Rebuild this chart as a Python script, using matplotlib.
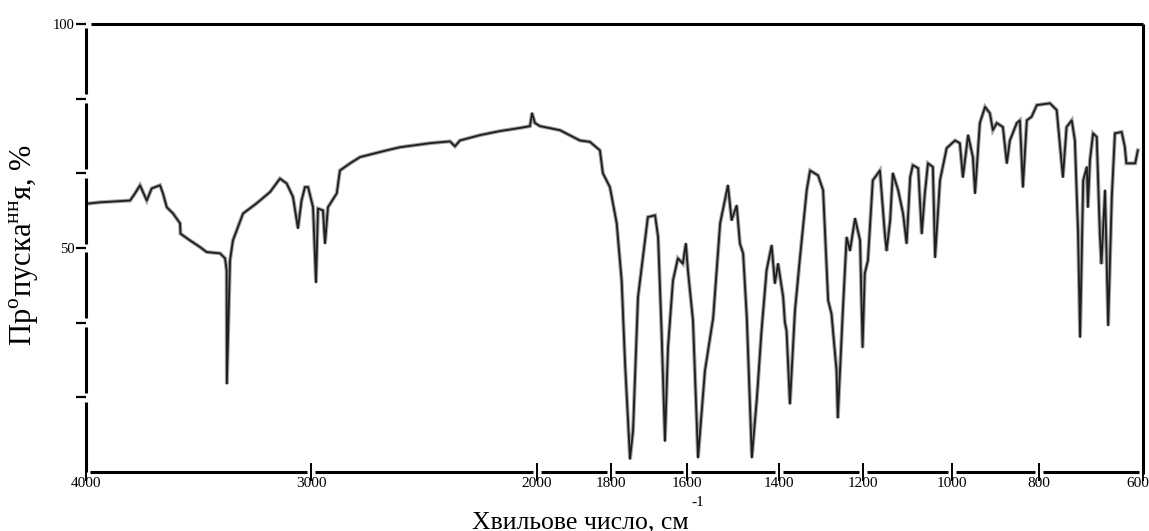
import numpy as np
import matplotlib
matplotlib.use("Agg")
from matplotlib import pyplot as plt
from matplotlib.transforms import ScaledTranslation

plt.rcParams['font.family'] = ['Liberation Serif', 'DejaVu Serif']
plt.rcParams['mathtext.fontset'] = 'custom'
plt.rcParams['mathtext.rm'] = 'Liberation Serif'

# IR spectrum (wavenumber, cm-1 / transmittance, %)
wavenumber = [3994, 3938, 3871, 3804, 3782, 3760, 3730, 3708, 3671, 3658, 3641, 3613, 3582, 3580,
              3538, 3493, 3464, 3404, 3382, 3375, 3374, 3360, 3347, 3302, 3241, 3182, 3138, 3108,
              3080, 3058, 3042, 3027, 3013, 2991, 2978, 2969, 2947, 2938, 2925, 2886, 2872, 2827,
              2783, 2665, 2606, 2473, 2385, 2363, 2341, 2252, 2164, 2075, 2031, 2022, 2009, 1992,
              1938, 1884, 1857, 1830, 1822, 1803, 1785, 1772, 1763, 1750, 1742, 1729, 1716, 1703,
              1684, 1676, 1667, 1658, 1650, 1637, 1624, 1611, 1603, 1598, 1587, 1576, 1561, 1543,
              1528, 1511, 1503, 1492, 1485, 1478, 1470, 1459, 1448, 1438, 1427, 1416, 1409, 1402,
              1390, 1386, 1382, 1374, 1362, 1350, 1334, 1326, 1307, 1295, 1283, 1275, 1263, 1260,
              1248, 1239, 1231, 1219, 1207, 1201, 1196, 1189, 1178, 1162, 1151, 1147, 1139, 1133,
              1121, 1110, 1102, 1094, 1088, 1076, 1068, 1061, 1054, 1043, 1038, 1027, 1012, 993,
              982, 975, 963, 952, 947, 936, 924, 913, 906, 897, 883, 874, 867, 851,
              844, 837, 828, 817, 805, 779, 766, 760, 754, 747, 737, 731, 725, 721,
              715, 708, 706, 702, 696, 689, 683, 680, 673, 667, 660, 654, 641, 635,
              632, 615, 610]
transmittance = [59.9, 60.2, 60.4, 60.6, 62.2, 64.0, 60.6, 63.3, 64.0, 62.2, 59.1, 57.7, 55.5, 53.2,
                 51.7, 50.2, 49.1, 48.8, 47.7, 45.0, 19.7, 47.2, 51.7, 57.7, 60.0, 62.5, 65.5, 64.4,
                 61.4, 54.4, 60.6, 63.6, 63.6, 59.1, 42.3, 58.8, 58.4, 51.0, 59.1, 62.2, 67.3, 68.9,
                 70.3, 71.8, 72.5, 73.4, 73.8, 72.7, 74.0, 75.2, 76.1, 76.8, 77.2, 80.1, 77.9, 77.2,
                 76.3, 74.0, 73.7, 71.8, 66.7, 63.6, 55.5, 42.7, 24.2, 2.9, 9.2, 39.0, 47.9, 56.9,
                 57.3, 52.4, 31.5, 6.9, 27.8, 42.7, 47.7, 46.5, 51.0, 45.0, 33.8, 3.2, 22.6, 34.5,
                 55.5, 64.0, 56.2, 59.5, 51.0, 48.8, 34.5, 3.2, 16.6, 31.5, 45.0, 50.6, 42.1, 46.5,
                 39.0, 33.4, 31.5, 15.2, 36.0, 47.9, 62.9, 67.3, 66.2, 62.9, 38.3, 35.3, 22.6, 12.1,
                 36.0, 52.4, 49.4, 56.6, 51.7, 27.8, 44.3, 47.2, 65.1, 67.3, 53.2, 49.4, 56.2, 66.7,
                 62.9, 57.7, 51.0, 65.8, 68.5, 67.8, 53.2, 62.2, 68.9, 68.1, 47.9, 65.1, 72.3, 74.0,
                 73.4, 65.8, 75.2, 70.3, 62.2, 77.9, 81.5, 80.1, 76.3, 77.9, 77.0, 68.9, 74.0, 77.9,
                 78.5, 63.6, 78.5, 79.3, 81.9, 82.3, 80.8, 73.4, 65.8, 77.0, 78.5, 74.0, 53.9, 30.1,
                 65.1, 68.1, 59.1, 69.6, 75.6, 74.8, 53.2, 46.5, 62.9, 32.7, 61.4, 75.6, 75.9, 72.6,
                 68.9, 68.9, 71.8]

x_ticks = [4000, 3000, 2000, 1800, 1600, 1400, 1200, 1000, 800, 600]
y_ticks = [100 * k / 6 for k in range(1, 7)]
y_tick_labels = ['', '', '50', '', '', '100']

# chart paper has an uneven wavenumber scale -> piecewise map through tick positions (pixels)
tick_px = [86, 311, 537, 611, 687, 779, 863, 952, 1039, 1143]

W, H = 1149, 531
L, R, TOP, BOT = 86, 1143, 24, 472


def fwd(w):
    return -np.interp(w, x_ticks[::-1], tick_px[::-1])


def inv(t):
    return np.interp(-np.asarray(t), tick_px, x_ticks)


def px2w(p):
    return np.interp(p, tick_px, x_ticks)


fig = plt.figure(figsize=(W / 100, H / 100), dpi=100)
ax = fig.add_axes([L / W, 1 - BOT / H, (R - L) / W, (BOT - TOP) / H])
ax.set_xscale('function', functions=(fwd, inv))
ax.set_xlim(4000, 600)
ax.set_ylim(0, 100)

""" spectrum """
ax.plot(wavenumber, transmittance, color='#a0a0a0', lw=2.8, solid_joinstyle='miter')
ax.plot(wavenumber, transmittance, color='#1e1e1e', lw=1.3)

""" ticks """
ax.set_xticks(x_ticks)
ax.set_xticklabels([str(v) for v in x_ticks])
ax.tick_params(axis='x', direction='inout', length=13, width=1.4, pad=-3, labelsize=11)
ax.set_yticks(y_ticks)
ax.set_yticklabels(y_tick_labels)
ax.tick_params(axis='y', direction='out', length=7, width=1.6, pad=1.5, labelsize=10.5)
ax.minorticks_off()
# last label sits right on the figure edge, nudge it in a bit
last = ax.get_xticklabels()[-1]
last.set_transform(last.get_transform() + ScaledTranslation(-5 / 100, 0, fig.dpi_scale_trans))

""" frame drawn in pieces, with gaps at the ticks like the scanned chart """
for s in ax.spines.values():
    s.set_visible(False)
kw = dict(color='black', lw=2.2, solid_capstyle='butt', clip_on=False)
gap = 4
for i in range(len(tick_px) - 1):
    ax.plot([px2w(tick_px[i] + gap), px2w(tick_px[i + 1] - gap)], [0, 0], **kw)
y_edges = [0] + y_ticks
for i in range(len(y_edges) - 1):
    lo = y_edges[i] + (1.0 if i > 0 else 0)
    ax.plot([4000, 4000], [lo, y_edges[i + 1] - 1.0], **kw)
ax.plot([px2w(91), 600], [100, 100], **kw)
ax.plot([600, 600], [100, -0.4], **kw)

""" labels """
fig.text(580 / W, 1 - 528 / H, 'Хвильове число, см', ha='center', va='baseline', fontsize=18.5)
fig.text(698 / W, 1 - 502 / H, '-1', ha='center', va='center', fontsize=11)
fig.text(24 / W, 1 - 245 / H, 'Пр$^{\\mathregular{о}}$пуска$^{\\mathregular{нн}}$я, %',
         rotation=90, ha='center', va='center', fontsize=22)

fig.savefig('out.png', dpi=100)
